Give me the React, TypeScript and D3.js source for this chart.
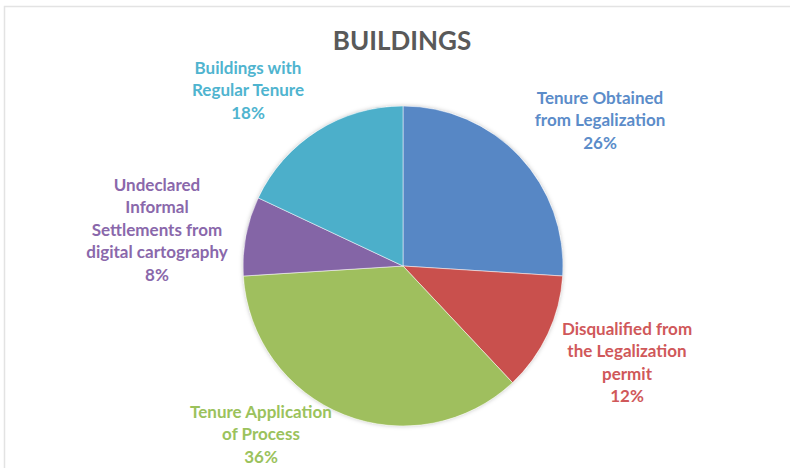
import React, { useEffect, useRef } from 'react';
import * as d3 from 'd3';

// slices, clockwise from 12 o'clock
const categories = [
  'Tenure Obtained from Legalization',
  'Disqualified from the Legalization permit',
  'Tenure Application of Process',
  'Undeclared Informal Settlements from digital cartography',
  'Buildings with Regular Tenure',
];
const values = [26, 12, 36, 8, 18];
const sliceColors = ['#5787c5', '#c9504d', '#9fbf5e', '#8465a6', '#4cafca'];
const labelColors = ['#5b8cc9', '#d0585a', '#9bc25c', '#8a68ab', '#4fb4cf'];
// label lines as they wrap in the picture
const labelLines = [
  ['Tenure Obtained', 'from Legalization', '26%'],
  ['Disqualified from', 'the Legalization', 'permit', '12%'],
  ['Tenure Application', 'of Process', '36%'],
  ['Undeclared', 'Informal', 'Settlements from', 'digital cartography', '8%'],
  ['Buildings with', 'Regular Tenure', '18%'],
];
// label anchor (centre of first line) in chart pixels
const labelPos = [
  [600, 98],
  [627, 329],
  [261, 412],
  [157, 185],
  [248, 68],
];

function App() {
  const ref = useRef(null);

  useEffect(() => {
    drawChart();
  }, []);

  function drawChart() {
    const width = 790;
    const height = 468;
    const svg = d3.select(ref.current);
    svg.selectAll('*').remove();

    const defs = svg.append('defs');
    const f = defs.append('filter').attr('id', 'soft').attr('x', '-10%').attr('y', '-10%').attr('width', '120%').attr('height', '120%');
    f.append('feDropShadow').attr('dx', 0).attr('dy', 0).attr('stdDeviation', 2).attr('flood-color', '#000').attr('flood-opacity', 0.25);

    svg.append('rect')
      .attr('x', 0).attr('y', 0).attr('width', width).attr('height', height)
      .attr('fill', '#fff');

    // chart frame (only top/left visible in the crop)
    svg.append('path')
      .attr('d', 'M4.5,' + height + ' L4.5,6.5 L' + width + ',6.5')
      .attr('fill', 'none')
      .attr('stroke', '#e3e3e3')
      .attr('stroke-width', 1.5);

    svg.append('text')
      .attr('x', 402)
      .attr('y', 50)
      .attr('text-anchor', 'middle')
      .style('font-family', 'Lato, "Open Sans", sans-serif')
      .style('font-weight', 'bold')
      .style('font-size', '26px')
      .attr('fill', '#595959')
      .text('BUILDINGS');

    const cx = 403;
    const cy = 266;
    const r = 160;

    const pie = d3.pie<number>().sort(null).value(d => d);
    const arc = d3.arc<d3.PieArcDatum<number>>().innerRadius(0).outerRadius(r);

    const g = svg.append('g').attr('transform', 'translate(' + cx + ',' + cy + ')');
    g.append('circle').attr('r', r).attr('fill', '#fff').attr('filter', 'url(#soft)');
    g.selectAll('path')
      .data(pie(values))
      .join('path')
      .attr('d', arc)
      .attr('fill', (d, i) => sliceColors[i])
      .attr('stroke', '#fff')
      .attr('stroke-width', 0.5);

    const lg = svg.append('g')
      .style('font-family', 'Lato, "Open Sans", sans-serif')
      .style('font-weight', 'bold')
      .style('font-size', '17px');

    labelLines.forEach(function (lines, i) {
      const t = lg.append('text')
        .attr('text-anchor', 'middle')
        .attr('fill', labelColors[i]);
      lines.forEach(function (line, j) {
        t.append('tspan')
          .attr('x', labelPos[i][0])
          .attr('y', labelPos[i][1] + j * 22.5)
          .attr('dy', '0.35em')
          .text(line);
      });
    });
  }

  return (
    <svg ref={ref} width={790} height={468} style={{ position: 'absolute', left: 0, top: 0 }} />
  );
}

export default App;
